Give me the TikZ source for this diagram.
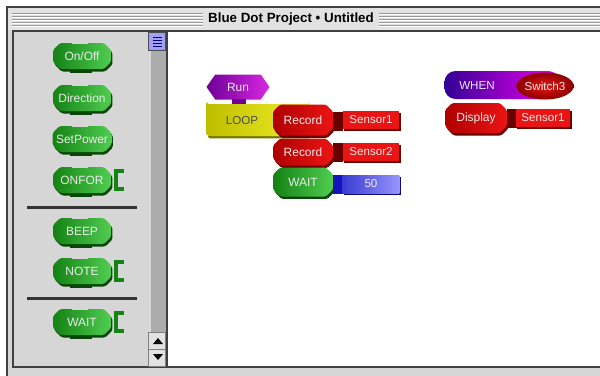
\documentclass[tikz,border=0pt]{standalone}
\usepackage{fontspec}
\setmainfont{Liberation Sans}
\usetikzlibrary{shapes.misc,shapes.geometric,shapes.symbols,shadows}

\definecolor{winGray}{RGB}{214,214,214}
\definecolor{barGray}{RGB}{226,226,226}
\definecolor{trackGray}{RGB}{172,172,172}
\definecolor{thumbBlue}{RGB}{160,160,250}
\definecolor{gDark}{RGB}{20,130,20}
\definecolor{gLight}{RGB}{80,205,80}
\definecolor{gShadow}{RGB}{10,70,10}
\definecolor{rDark}{RGB}{175,0,0}
\definecolor{rLight}{RGB}{235,20,20}
\definecolor{rShadow}{RGB}{105,0,0}
\definecolor{yDark}{RGB}{190,190,0}
\definecolor{yLight}{RGB}{240,240,40}
\definecolor{yShadow}{RGB}{120,120,0}
\definecolor{pDark}{RGB}{110,0,150}
\definecolor{pLight}{RGB}{215,40,225}
\definecolor{bDark}{RGB}{20,20,190}
\definecolor{bLight}{RGB}{150,150,255}
\definecolor{wLeft}{RGB}{50,0,150}
\definecolor{wRight}{RGB}{240,0,240}

\tikzset{
  brick/.style={chamfered rectangle, chamfered rectangle xsep=0.07cm, chamfered rectangle ysep=0.07cm,
    rounded corners=1pt, inner sep=0pt, text=white!92!black, font=\fontsize{6.8}{6.8}\selectfont},
  gbrick/.style={brick, left color=gDark, right color=gLight, minimum width=1.16cm, minimum height=0.52cm,
    drop shadow={shadow xshift=0.03cm, shadow yshift=-0.05cm, fill=gShadow, opacity=1}},
  rbrick/.style={brick, left color=rDark, right color=rLight, minimum width=1.2cm, minimum height=0.62cm,
    drop shadow={shadow xshift=0.03cm, shadow yshift=-0.05cm, fill=rShadow, opacity=1}},
  ybrick/.style={brick, left color=yDark, right color=yLight, minimum width=2.06cm, minimum height=0.64cm,
    drop shadow={shadow xshift=0.03cm, shadow yshift=-0.05cm, fill=yShadow, opacity=1}},
  slot/.style={rectangle, inner sep=0pt, text=white!92!black, font=\fontsize{6.6}{6.6}\selectfont,
    minimum width=1.14cm, minimum height=0.36cm},
  plug/.style={rectangle, inner sep=0pt, minimum width=0.2cm, minimum height=0.38cm},
  bracket/.style={gDark, line width=0.07cm},
}

\begin{document}
\begin{tikzpicture}[x=0.02cm, y=-0.02cm]
\clip (0,0) rectangle (600,376);
\fill[white] (0,0) rectangle (600,376);

% window and title bar
\filldraw[fill=winGray, draw=black!75, line width=0.04cm] (7,7) rectangle (620,390);
\fill[barGray] (8,8) rectangle (620,30);
\foreach \yy in {13,16,...,25} {
  \draw[black!40, line width=0.02cm] (12,\yy) -- (600,\yy);
  \draw[white, line width=0.02cm] (12,\yy+1) -- (600,\yy+1);
}
\node[font=\fontsize{7.6}{7.6}\selectfont\bfseries, fill=barGray, inner xsep=3pt, inner ysep=1pt] (title) at (291,19)
  {Blue Dot Project • Untitled};

% panels
\draw[black!75, line width=0.05cm] (13,31) rectangle (620,367);
\fill[winGray] (14,32) rectangle (148,366);
\fill[trackGray] (149,32) rectangle (166,332);
\draw[white!85!black, line width=0.03cm] (150,50) -- (150,332);
\filldraw[fill=thumbBlue, draw=black!70, line width=0.02cm] (149,32) rectangle (166,50);
\foreach \yy in {37,40,43,46}
  \draw[blue!40!black, line width=0.02cm] (153,\yy) -- (162,\yy);
\filldraw[fill=barGray, draw=black!50, line width=0.02cm] (149,332) rectangle (166,349);
\filldraw[fill=barGray, draw=black!50, line width=0.02cm] (149,349) rectangle (166,366);
\fill (153,344) -- (163,344) -- (158,338) -- cycle;
\fill (153,354) -- (163,354) -- (158,360) -- cycle;
\fill[white] (168,32) rectangle (620,366);
\draw[black!75, line width=0.06cm] (167,31) -- (167,367);
\draw[black!80, line width=0.06cm] (27,207) -- (137,207);
\draw[black!80, line width=0.06cm] (27,298) -- (137,298);

% palette
\foreach \yy/\txt/\nm in {56/{On/Off}/onoff, 98/Direction/dir, 139/SetPower/setpow, 180/ONFOR/onfor,
                          231/BEEP/beep, 271/NOTE/note, 322/WAIT/waitp} {
  \fill[gShadow] (70,\yy+12) rectangle (92,\yy+17);
  \node[gbrick] (\nm) at (82,\yy) {\txt};
  \fill[winGray] (72,\yy-14) rectangle (88,\yy-12);
}
\foreach \yy in {180,271,322}
  \draw[bracket] (124,\yy-9) -- (116,\yy-9) -- (116,\yy+9) -- (124,\yy+9);

% program
\node[signal, signal to=east and west, signal pointer angle=110, minimum width=1.26cm, minimum height=0.5cm,
  inner sep=0pt, left color=pDark, right color=pLight, text=white!92!black,
  font=\fontsize{6.8}{6.8}\selectfont] (run) at (238,87) {Run};
\fill[pDark] (232,99) rectangle (246,104);
\node[ybrick] (loop) at (258,120) {};
\node[text=black!70, font=\fontsize{6.6}{6.6}\selectfont] (loopl) at (242,121) {LOOP};

\node[rbrick] (rec1) at (303,120) {Record};
\node[plug, fill=rShadow] (plug1) at (338,121) {};
\node[slot, fill=rLight, drop shadow={shadow xshift=0.03cm, shadow yshift=-0.04cm, fill=rShadow, opacity=1}]
  (sen1) at (371,120) {Sensor1};
\node[rbrick, minimum height=0.54cm] (rec2) at (303,152) {Record};
\node[plug, fill=rShadow] (plug2) at (338,152) {};
\node[slot, fill=rLight, drop shadow={shadow xshift=0.03cm, shadow yshift=-0.04cm, fill=rShadow, opacity=1}]
  (sen2) at (371,152) {Sensor2};
\node[gbrick, minimum width=1.2cm, minimum height=0.58cm] (wait) at (303,182) {WAIT};
\node[plug, fill=bDark] (plug3) at (338,184) {};
\node[slot, left color=bDark!70!bLight, right color=bLight, drop shadow={shadow xshift=0.03cm, shadow yshift=-0.04cm, fill=bDark!60!black, opacity=1}]
  (val) at (371,184) {50};

\node[rectangle, rounded corners=0.22cm, minimum width=2.3cm, minimum height=0.56cm, inner sep=0pt,
  left color=wLeft, right color=wRight] (when) at (502,85) {};
\node[text=white!92!black, font=\fontsize{6.6}{6.6}\selectfont] (whenl) at (477,86) {WHEN};
\node[ellipse, minimum width=1.1cm, minimum height=0.54cm, inner sep=0pt, inner color=rLight, outer color=rDark!80!black,
  text=white!92!black, font=\fontsize{6.6}{6.6}\selectfont] (sw) at (545,86) {Switch3};
\node[rbrick, minimum width=1.24cm, minimum height=0.6cm] (disp) at (476,118) {Display};
\node[plug, fill=rShadow] (plug4) at (512,118) {};
\node[slot, fill=rLight, minimum width=1.1cm, drop shadow={shadow xshift=0.03cm, shadow yshift=-0.04cm, fill=rShadow, opacity=1}]
  (sen3) at (543,118) {Sensor1};
\end{tikzpicture}
\end{document}
